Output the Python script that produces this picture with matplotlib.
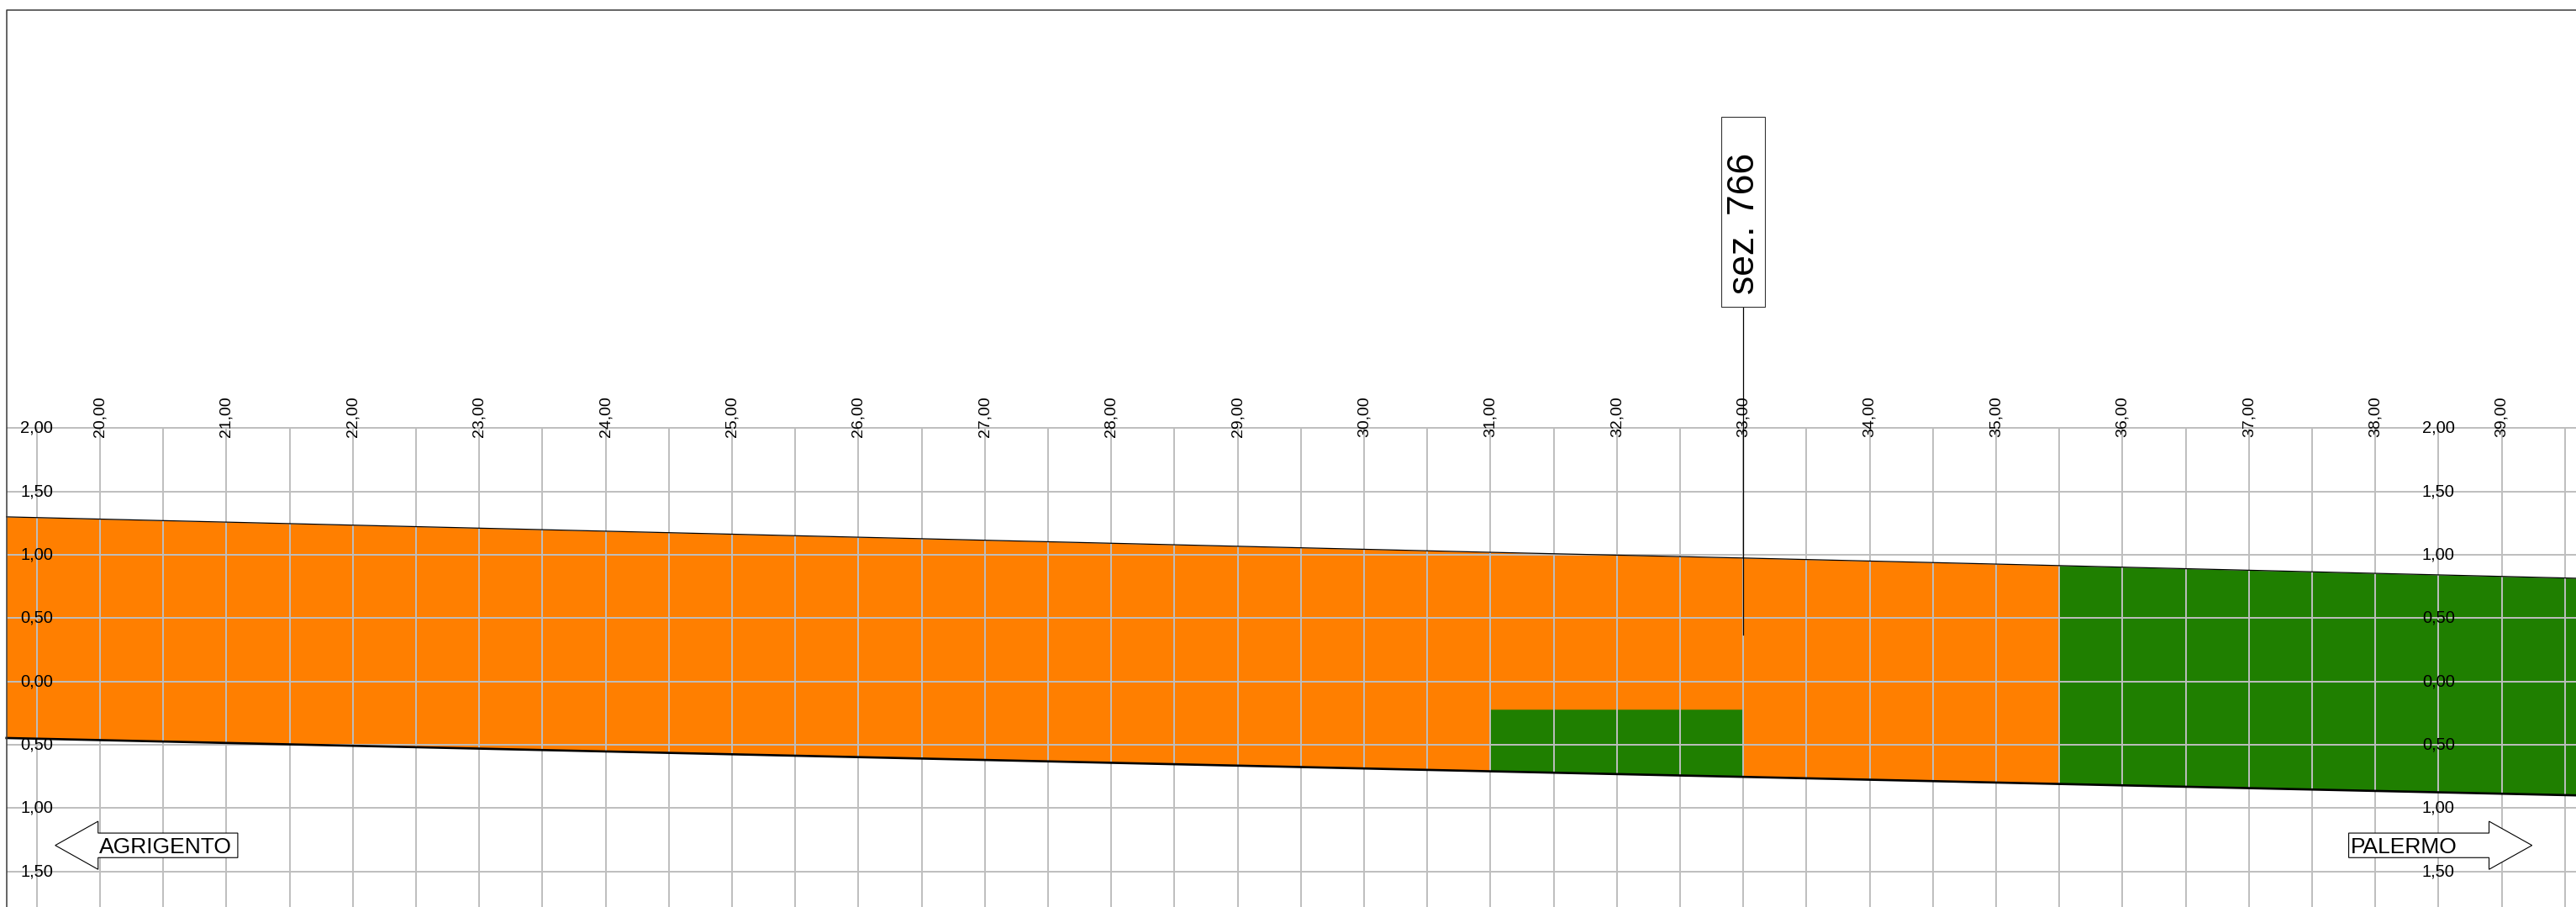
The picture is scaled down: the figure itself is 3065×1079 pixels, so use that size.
import matplotlib
matplotlib.use("Agg")
from matplotlib import pyplot as plt
from matplotlib.patches import Polygon, Rectangle

plt.rcParams['font.family'] = ['Liberation Sans', 'DejaVu Sans']

# profile stations (m) and edges of the layer (m)
stations = [19.26, 31.0, 33.0, 35.5, 39.59]
top_edge = [1.30, 1.02, 0.975, 0.915, 0.815]
bottom_edge = [-0.447, -0.71, -0.754, -0.81, -0.90]

# inner green block
block_x = [31.0, 33.0]
block_top = -0.22

# grid
grid_x = [19.5 + 0.5 * i for i in range(41)]
grid_y = [2.0, 1.5, 1.0, 0.5, 0.0, -0.5, -1.0, -1.5, -2.0]

# labels
x_ticks = list(range(20, 40))
x_tick_labels = ["%d,00" % v for v in x_ticks]
y_ticks = [2.0, 1.5, 1.0, 0.5, 0.0, -0.5, -1.0, -1.5]
y_tick_labels = ["2,00", "1,50", "1,00", "0,50", "0,00", "0,50", "1,00", "1,50"]
y_label_cols = [19.5, 38.5]

section_x = 33.0
section_name = "sez. 766"

orange = '#FF7F00'
green = '#1F7F00'

fig = plt.figure(figsize=(30.65, 10.79), dpi=100)
ax = fig.add_axes([0, 0, 1, 1])
ax.set_xlim(19.209, 39.588)
ax.set_ylim(-1.782, 5.383)
ax.axis('off')

# fills
ax.fill_between(stations[:4], bottom_edge[:4], top_edge[:4], color=orange, lw=0, zorder=1)
ax.fill_between(stations[3:], bottom_edge[3:], top_edge[3:], color=green, lw=0, zorder=1)
ax.fill_between(block_x, bottom_edge[1:3], [block_top, block_top], color=green, lw=0, zorder=1.5)

# grid over the fills
ax.hlines(grid_y, stations[0], 39.6, colors='#BEBEBE', lw=1.4, zorder=2)
ax.vlines(grid_x, -2.0, 2.0, colors='#BEBEBE', lw=1.4, zorder=2)

# outlines
ax.plot(stations, top_edge, color='black', lw=0.9, zorder=3)
ax.plot(stations, bottom_edge, color='black', lw=1.9, zorder=3)

# frame (left and top)
ax.plot([19.262, 19.262, 39.6], [-2.0, 5.303, 5.303], color='#3A3A3A', lw=1.1, zorder=4)

# tick labels
for xv, lab in zip(x_ticks, x_tick_labels):
    ax.text(xv, 2.09, lab, rotation=90, ha='center', va='center', fontsize=14, zorder=5)
for col in y_label_cols:
    for yv, lab in zip(y_ticks, y_tick_labels):
        ax.text(col, yv, lab, ha='center', va='center', fontsize=14.5, zorder=5)

# section marker
ax.plot([section_x, section_x], [0.37, 2.96], color='black', lw=0.9, zorder=4)
ax.add_patch(Rectangle((section_x - 0.175, 2.96), 0.35, 1.498, facecolor='white',
                       edgecolor='#333333', lw=0.8, zorder=4))
ax.text(section_x + 0.01, 3.62, section_name, rotation=90, ha='center', va='center',
        fontsize=32, zorder=5)

# direction arrows
cy = -1.295
head_h = 0.19
shaft_h = 0.097


def arrow(tip, base, tail):
    pts = [(tip, cy), (base, cy + head_h), (base, cy + shaft_h), (tail, cy + shaft_h),
           (tail, cy - shaft_h), (base, cy - shaft_h), (base, cy - head_h)]
    ax.add_patch(Polygon(pts, closed=True, facecolor='white', edgecolor='black',
                         lw=0.8, zorder=4))


arrow(19.646, 19.985, 21.09)
ax.text(19.995, -1.355, "AGRIGENTO", ha='left', va='baseline', fontsize=19, zorder=5)
arrow(39.24, 38.90, 37.79)
ax.text(37.805, -1.355, "PALERMO", ha='left', va='baseline', fontsize=19, zorder=5)

fig.savefig("out.png", dpi=100)
